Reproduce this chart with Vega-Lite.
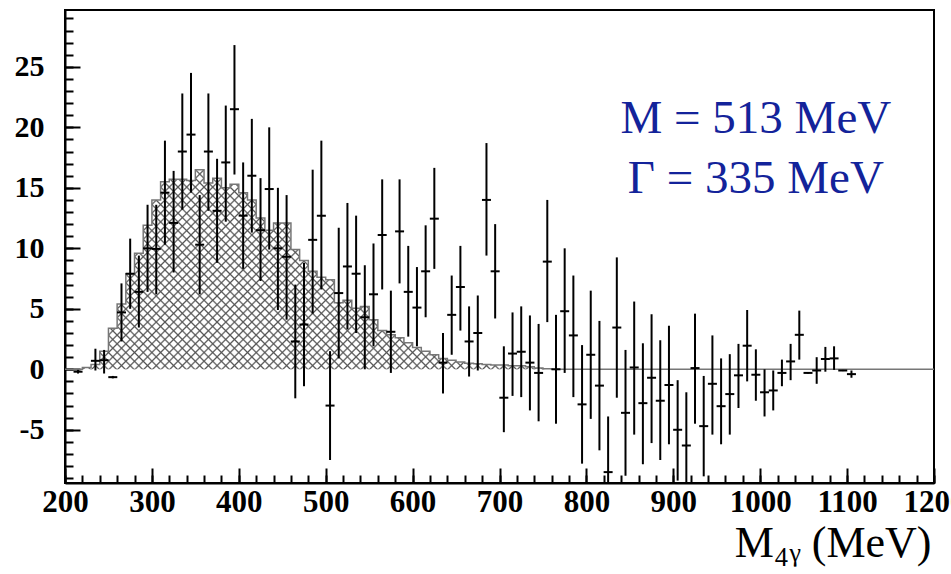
{
  "$schema": "https://vega.github.io/schema/vega-lite/v6.json",
  "width": 869,
  "height": 473,
  "autosize": {"type": "none"},
  "padding": {"left": 65, "top": 10, "right": 17, "bottom": 91},
  "background": "white",
  "config": {"view": {"stroke": "black", "strokeWidth": 2}, "font": "Liberation Serif"},
  "resolve": {"axis": {"x": "independent", "y": "independent"}},
  "datasets": {
    "hist": [{"lo":200,"h":0},{"lo":210,"h":0},{"lo":220,"h":0.15},{"lo":230,"h":0.4},{"lo":240,"h":1.5},{"lo":250,"h":3.4},{"lo":260,"h":5.4},{"lo":270,"h":7.9},{"lo":280,"h":9.6},{"lo":290,"h":11.9},{"lo":300,"h":14.0},{"lo":310,"h":15.5},{"lo":320,"h":15.7},{"lo":330,"h":15.7},{"lo":340,"h":15.6},{"lo":350,"h":16.5},{"lo":360,"h":15.4},{"lo":370,"h":15.8},{"lo":380,"h":15.0},{"lo":390,"h":15.3},{"lo":400,"h":14.6},{"lo":410,"h":14.0},{"lo":420,"h":12.5},{"lo":430,"h":11.5},{"lo":440,"h":12.1},{"lo":450,"h":12.1},{"lo":460,"h":9.9},{"lo":470,"h":9.0},{"lo":480,"h":8.1},{"lo":490,"h":7.6},{"lo":500,"h":7.4},{"lo":510,"h":5.5},{"lo":520,"h":5.7},{"lo":530,"h":5.05},{"lo":540,"h":5.2},{"lo":550,"h":4.1},{"lo":560,"h":3.2},{"lo":570,"h":2.85},{"lo":580,"h":2.6},{"lo":590,"h":2.2},{"lo":600,"h":1.8},{"lo":610,"h":1.5},{"lo":620,"h":1.2},{"lo":630,"h":0.9},{"lo":640,"h":0.75},{"lo":650,"h":0.6},{"lo":660,"h":0.5},{"lo":670,"h":0.45},{"lo":680,"h":0.4},{"lo":690,"h":0.35},{"lo":700,"h":0.35},{"lo":710,"h":0.3},{"lo":720,"h":0.3},{"lo":730,"h":0.2},{"lo":740,"h":0.1},{"lo":750,"h":0.05},{"lo":760,"h":0},{"lo":1200,"h":0}],
    "pts": [{"m":215,"v":-0.2,"lo":-0.35,"hi":-0.05},{"m":235,"v":0.7,"lo":-0.1,"hi":1.7},{"m":245,"v":0.75,"lo":-0.35,"hi":1.6},{"m":255,"v":-0.65,"lo":-0.75,"hi":-0.55},{"m":265,"v":4.7,"lo":2.3,"hi":7.1},{"m":275,"v":7.9,"lo":5.0,"hi":10.8},{"m":285,"v":6.4,"lo":3.45,"hi":9.4},{"m":295,"v":10.0,"lo":6.4,"hi":13.6},{"m":305,"v":9.95,"lo":6.2,"hi":13.6},{"m":315,"v":14.6,"lo":10.3,"hi":18.9},{"m":325,"v":12.1,"lo":8.0,"hi":16.4},{"m":335,"v":18.0,"lo":13.2,"hi":22.8},{"m":345,"v":19.4,"lo":14.6,"hi":24.5},{"m":355,"v":10.3,"lo":6.2,"hi":14.4},{"m":365,"v":18.0,"lo":13.1,"hi":22.8},{"m":375,"v":13.1,"lo":8.8,"hi":17.4},{"m":385,"v":17.1,"lo":12.2,"hi":21.8},{"m":395,"v":21.5,"lo":16.1,"hi":26.8},{"m":405,"v":12.7,"lo":8.3,"hi":17.1},{"m":415,"v":16.0,"lo":11.3,"hi":20.7},{"m":425,"v":11.5,"lo":7.3,"hi":15.8},{"m":435,"v":14.9,"lo":9.9,"hi":20.0},{"m":445,"v":10.0,"lo":4.9,"hi":15.0},{"m":455,"v":9.3,"lo":4.1,"hi":14.4},{"m":465,"v":2.3,"lo":-2.4,"hi":7.0},{"m":475,"v":3.7,"lo":-1.4,"hi":8.8},{"m":485,"v":10.7,"lo":4.6,"hi":16.5},{"m":495,"v":12.7,"lo":6.6,"hi":18.9},{"m":505,"v":-3.0,"lo":-7.5,"hi":1.5},{"m":515,"v":6.3,"lo":0.9,"hi":11.7},{"m":525,"v":8.5,"lo":3.3,"hi":13.75},{"m":535,"v":7.9,"lo":3.0,"hi":12.7},{"m":545,"v":4.3,"lo":0.0,"hi":8.6},{"m":555,"v":6.2,"lo":1.9,"hi":10.4},{"m":565,"v":11.1,"lo":6.6,"hi":15.7},{"m":575,"v":3.1,"lo":-0.3,"hi":6.5},{"m":585,"v":11.4,"lo":7.1,"hi":15.7},{"m":595,"v":6.4,"lo":2.7,"hi":10.2},{"m":605,"v":5.1,"lo":1.9,"hi":8.45},{"m":615,"v":8.1,"lo":4.3,"hi":11.9},{"m":625,"v":12.45,"lo":8.3,"hi":16.65},{"m":635,"v":0.55,"lo":-2.0,"hi":3.0},{"m":645,"v":4.5,"lo":1.2,"hi":7.75},{"m":655,"v":6.8,"lo":3.2,"hi":10.2},{"m":665,"v":2.3,"lo":-0.6,"hi":5.2},{"m":675,"v":3.0,"lo":-0.1,"hi":6.1},{"m":685,"v":14.0,"lo":9.4,"hi":18.7},{"m":695,"v":8.1,"lo":4.2,"hi":12.0},{"m":705,"v":-2.35,"lo":-5.2,"hi":1.9},{"m":715,"v":1.3,"lo":-2.2,"hi":4.7},{"m":725,"v":1.45,"lo":-2.3,"hi":5.2},{"m":735,"v":0.55,"lo":-3.4,"hi":4.45},{"m":745,"v":-0.3,"lo":-4.3,"hi":3.75},{"m":755,"v":8.9,"lo":3.9,"hi":14.0},{"m":765,"v":0.0,"lo":-4.5,"hi":4.5},{"m":775,"v":4.8,"lo":-0.3,"hi":10.0},{"m":785,"v":2.8,"lo":-2.3,"hi":7.75},{"m":795,"v":-2.9,"lo":-7.8,"hi":2.0},{"m":805,"v":1.2,"lo":-4.1,"hi":6.5},{"m":815,"v":-1.35,"lo":-6.7,"hi":4.0},{"m":825,"v":-8.5,"lo":-13.0,"hi":-3.9},{"m":835,"v":3.45,"lo":-2.35,"hi":9.25},{"m":845,"v":-3.6,"lo":-8.8,"hi":1.6},{"m":855,"v":0.15,"lo":-5.4,"hi":5.6},{"m":865,"v":-2.8,"lo":-7.85,"hi":2.15},{"m":875,"v":-0.7,"lo":-6.1,"hi":4.55},{"m":885,"v":-2.6,"lo":-7.5,"hi":2.4},{"m":895,"v":-1.3,"lo":-6.2,"hi":3.6},{"m":905,"v":-5.0,"lo":-9.2,"hi":-0.9},{"m":915,"v":-6.3,"lo":-11.0,"hi":-1.9},{"m":925,"v":0.1,"lo":-4.5,"hi":4.6},{"m":935,"v":-4.7,"lo":-8.85,"hi":-0.55},{"m":945,"v":-1.2,"lo":-5.4,"hi":2.8},{"m":955,"v":-3.05,"lo":-6.2,"hi":0.9},{"m":965,"v":-2.05,"lo":-5.4,"hi":1.25},{"m":975,"v":-0.5,"lo":-3.2,"hi":2.1},{"m":985,"v":1.95,"lo":-1.0,"hi":4.9},{"m":995,"v":-0.45,"lo":-2.6,"hi":1.65},{"m":1005,"v":-1.9,"lo":-3.9,"hi":0.0},{"m":1015,"v":-1.75,"lo":-3.4,"hi":-0.1},{"m":1025,"v":-0.3,"lo":-1.4,"hi":0.8},{"m":1035,"v":0.65,"lo":-0.9,"hi":2.1},{"m":1045,"v":2.85,"lo":0.8,"hi":4.85},{"m":1055,"v":-0.3,"lo":-0.35,"hi":-0.25},{"m":1065,"v":-0.1,"lo":-1.2,"hi":1.0},{"m":1075,"v":0.85,"lo":-0.2,"hi":1.85},{"m":1085,"v":0.9,"lo":-0.05,"hi":1.9},{"m":1095,"v":-0.1,"lo":-0.15,"hi":-0.05},{"m":1105,"v":-0.4,"lo":-0.7,"hi":-0.1}]
  },
  "layer": [
    {
      "data": {"name": "hist"},
      "transform": [{"filter": "datum.lo <= 760"}],
      "mark": {"type": "area", "interpolate": "step-after", "clip": true, "fillOpacity": 1,
        "fill": {"gradient": "linear", "x1": 0, "y1": 0, "x2": 1.2235, "y2": 0.5009, "stops": [
{"offset":0,"color":"#555"},{"offset":0.0025,"color":"#5550"},{"offset":0.01,"color":"#5550"},
{"offset":0.0125,"color":"#555"},{"offset":0.015,"color":"#5550"},{"offset":0.0225,"color":"#5550"},
{"offset":0.025,"color":"#555"},{"offset":0.0275,"color":"#5550"},{"offset":0.035,"color":"#5550"},
{"offset":0.0375,"color":"#555"},{"offset":0.04,"color":"#5550"},{"offset":0.0475,"color":"#5550"},
{"offset":0.05,"color":"#555"},{"offset":0.0525,"color":"#5550"},{"offset":0.06,"color":"#5550"},
{"offset":0.0625,"color":"#555"},{"offset":0.065,"color":"#5550"},{"offset":0.0725,"color":"#5550"},
{"offset":0.075,"color":"#555"},{"offset":0.0775,"color":"#5550"},{"offset":0.085,"color":"#5550"},
{"offset":0.0875,"color":"#555"},{"offset":0.09,"color":"#5550"},{"offset":0.0975,"color":"#5550"},
{"offset":0.1,"color":"#555"},{"offset":0.1025,"color":"#5550"},{"offset":0.11,"color":"#5550"},
{"offset":0.1125,"color":"#555"},{"offset":0.115,"color":"#5550"},{"offset":0.1225,"color":"#5550"},
{"offset":0.125,"color":"#555"},{"offset":0.1275,"color":"#5550"},{"offset":0.135,"color":"#5550"},
{"offset":0.1375,"color":"#555"},{"offset":0.14,"color":"#5550"},{"offset":0.1475,"color":"#5550"},
{"offset":0.15,"color":"#555"},{"offset":0.1525,"color":"#5550"},{"offset":0.16,"color":"#5550"},
{"offset":0.1625,"color":"#555"},{"offset":0.165,"color":"#5550"},{"offset":0.1725,"color":"#5550"},
{"offset":0.175,"color":"#555"},{"offset":0.1775,"color":"#5550"},{"offset":0.185,"color":"#5550"},
{"offset":0.1875,"color":"#555"},{"offset":0.19,"color":"#5550"},{"offset":0.1975,"color":"#5550"},
{"offset":0.2,"color":"#555"},{"offset":0.2025,"color":"#5550"},{"offset":0.21,"color":"#5550"},
{"offset":0.2125,"color":"#555"},{"offset":0.215,"color":"#5550"},{"offset":0.2225,"color":"#5550"},
{"offset":0.225,"color":"#555"},{"offset":0.2275,"color":"#5550"},{"offset":0.235,"color":"#5550"},
{"offset":0.2375,"color":"#555"},{"offset":0.24,"color":"#5550"},{"offset":0.2475,"color":"#5550"},
{"offset":0.25,"color":"#555"},{"offset":0.2525,"color":"#5550"},{"offset":0.26,"color":"#5550"},
{"offset":0.2625,"color":"#555"},{"offset":0.265,"color":"#5550"},{"offset":0.2725,"color":"#5550"},
{"offset":0.275,"color":"#555"},{"offset":0.2775,"color":"#5550"},{"offset":0.285,"color":"#5550"},
{"offset":0.2875,"color":"#555"},{"offset":0.29,"color":"#5550"},{"offset":0.2975,"color":"#5550"},
{"offset":0.3,"color":"#555"},{"offset":0.3025,"color":"#5550"},{"offset":0.31,"color":"#5550"},
{"offset":0.3125,"color":"#555"},{"offset":0.315,"color":"#5550"},{"offset":0.3225,"color":"#5550"},
{"offset":0.325,"color":"#555"},{"offset":0.3275,"color":"#5550"},{"offset":0.335,"color":"#5550"},
{"offset":0.3375,"color":"#555"},{"offset":0.34,"color":"#5550"},{"offset":0.3475,"color":"#5550"},
{"offset":0.35,"color":"#555"},{"offset":0.3525,"color":"#5550"},{"offset":0.36,"color":"#5550"},
{"offset":0.3625,"color":"#555"},{"offset":0.365,"color":"#5550"},{"offset":0.3725,"color":"#5550"},
{"offset":0.375,"color":"#555"},{"offset":0.3775,"color":"#5550"},{"offset":0.385,"color":"#5550"},
{"offset":0.3875,"color":"#555"},{"offset":0.39,"color":"#5550"},{"offset":0.3975,"color":"#5550"},
{"offset":0.4,"color":"#555"},{"offset":0.4025,"color":"#5550"},{"offset":0.41,"color":"#5550"},
{"offset":0.4125,"color":"#555"},{"offset":0.415,"color":"#5550"},{"offset":0.4225,"color":"#5550"},
{"offset":0.425,"color":"#555"},{"offset":0.4275,"color":"#5550"},{"offset":0.435,"color":"#5550"},
{"offset":0.4375,"color":"#555"},{"offset":0.44,"color":"#5550"},{"offset":0.4475,"color":"#5550"},
{"offset":0.45,"color":"#555"},{"offset":0.4525,"color":"#5550"},{"offset":0.46,"color":"#5550"},
{"offset":0.4625,"color":"#555"},{"offset":0.465,"color":"#5550"},{"offset":0.4725,"color":"#5550"},
{"offset":0.475,"color":"#555"},{"offset":0.4775,"color":"#5550"},{"offset":0.485,"color":"#5550"},
{"offset":0.4875,"color":"#555"},{"offset":0.49,"color":"#5550"},{"offset":0.4975,"color":"#5550"},
{"offset":0.5,"color":"#555"},{"offset":0.5025,"color":"#5550"},{"offset":0.51,"color":"#5550"},
{"offset":0.5125,"color":"#555"},{"offset":0.515,"color":"#5550"},{"offset":0.5225,"color":"#5550"},
{"offset":0.525,"color":"#555"},{"offset":0.5275,"color":"#5550"},{"offset":0.535,"color":"#5550"},
{"offset":0.5375,"color":"#555"},{"offset":0.54,"color":"#5550"},{"offset":0.5475,"color":"#5550"},
{"offset":0.55,"color":"#555"},{"offset":0.5525,"color":"#5550"},{"offset":0.56,"color":"#5550"},
{"offset":0.5625,"color":"#555"},{"offset":0.565,"color":"#5550"},{"offset":0.5725,"color":"#5550"},
{"offset":0.575,"color":"#555"},{"offset":0.5775,"color":"#5550"},{"offset":0.585,"color":"#5550"},
{"offset":0.5875,"color":"#555"},{"offset":0.59,"color":"#5550"},{"offset":0.5975,"color":"#5550"},
{"offset":0.6,"color":"#555"},{"offset":0.6025,"color":"#5550"},{"offset":0.61,"color":"#5550"},
{"offset":0.6125,"color":"#555"},{"offset":0.615,"color":"#5550"},{"offset":0.6225,"color":"#5550"},
{"offset":0.625,"color":"#555"},{"offset":0.6275,"color":"#5550"},{"offset":0.635,"color":"#5550"},
{"offset":0.6375,"color":"#555"},{"offset":0.64,"color":"#5550"},{"offset":0.6475,"color":"#5550"},
{"offset":0.65,"color":"#555"},{"offset":0.6525,"color":"#5550"},{"offset":0.66,"color":"#5550"},
{"offset":0.6625,"color":"#555"},{"offset":0.665,"color":"#5550"},{"offset":0.6725,"color":"#5550"},
{"offset":0.675,"color":"#555"},{"offset":0.6775,"color":"#5550"},{"offset":0.685,"color":"#5550"},
{"offset":0.6875,"color":"#555"},{"offset":0.69,"color":"#5550"},{"offset":0.6975,"color":"#5550"},
{"offset":0.7,"color":"#555"},{"offset":0.7025,"color":"#5550"},{"offset":0.71,"color":"#5550"},
{"offset":0.7125,"color":"#555"},{"offset":0.715,"color":"#5550"},{"offset":0.7225,"color":"#5550"},
{"offset":0.725,"color":"#555"},{"offset":0.7275,"color":"#5550"},{"offset":0.735,"color":"#5550"},
{"offset":0.7375,"color":"#555"},{"offset":0.74,"color":"#5550"},{"offset":0.7475,"color":"#5550"},
{"offset":0.75,"color":"#555"},{"offset":0.7525,"color":"#5550"},{"offset":0.76,"color":"#5550"},
{"offset":0.7625,"color":"#555"},{"offset":0.765,"color":"#5550"},{"offset":0.7725,"color":"#5550"},
{"offset":0.775,"color":"#555"},{"offset":0.7775,"color":"#5550"},{"offset":0.785,"color":"#5550"},
{"offset":0.7875,"color":"#555"},{"offset":0.79,"color":"#5550"},{"offset":0.7975,"color":"#5550"},
{"offset":0.8,"color":"#555"},{"offset":0.8025,"color":"#5550"},{"offset":0.81,"color":"#5550"},
{"offset":0.8125,"color":"#555"},{"offset":0.815,"color":"#5550"},{"offset":0.8225,"color":"#5550"},
{"offset":0.825,"color":"#555"},{"offset":0.8275,"color":"#5550"},{"offset":0.835,"color":"#5550"},
{"offset":0.8375,"color":"#555"},{"offset":0.84,"color":"#5550"},{"offset":0.8475,"color":"#5550"},
{"offset":0.85,"color":"#555"},{"offset":0.8525,"color":"#5550"},{"offset":0.86,"color":"#5550"},
{"offset":0.8625,"color":"#555"},{"offset":0.865,"color":"#5550"},{"offset":0.8725,"color":"#5550"},
{"offset":0.875,"color":"#555"},{"offset":0.8775,"color":"#5550"},{"offset":0.885,"color":"#5550"},
{"offset":0.8875,"color":"#555"},{"offset":0.89,"color":"#5550"},{"offset":0.8975,"color":"#5550"},
{"offset":0.9,"color":"#555"},{"offset":0.9025,"color":"#5550"},{"offset":0.91,"color":"#5550"},
{"offset":0.9125,"color":"#555"},{"offset":0.915,"color":"#5550"},{"offset":0.9225,"color":"#5550"},
{"offset":0.925,"color":"#555"},{"offset":0.9275,"color":"#5550"},{"offset":0.935,"color":"#5550"},
{"offset":0.9375,"color":"#555"},{"offset":0.94,"color":"#5550"},{"offset":0.9475,"color":"#5550"},
{"offset":0.95,"color":"#555"},{"offset":0.9525,"color":"#5550"},{"offset":0.96,"color":"#5550"},
{"offset":0.9625,"color":"#555"},{"offset":0.965,"color":"#5550"},{"offset":0.9725,"color":"#5550"},
{"offset":0.975,"color":"#555"},{"offset":0.9775,"color":"#5550"},{"offset":0.985,"color":"#5550"},
{"offset":0.9875,"color":"#555"},{"offset":0.99,"color":"#5550"},{"offset":0.9975,"color":"#5550"},
{"offset":1,"color":"#555"}
        ]}
      },
      "encoding": {
        "x": {"field": "lo", "type": "quantitative",
          "scale": {"domain": [200, 1200], "nice": false, "zero": false},
          "axis": {
            "orient": "bottom",
            "values": [200,300,400,500,600,700,800,900,1000,1100,1200],
            "format": "d",
            "ticks": false,
            "domain": true, "domainColor": "black", "domainWidth": 2,
            "grid": true, "gridColor": "black", "gridWidth": 2, "gridOpacity": 1,
            "gridDash": [15, 458], "gridDashOffset": 15,
            "labelFont": "Liberation Serif", "labelFontWeight": "bold", "labelFontSize": 31, "labelColor": "black",
            "labelPadding": 4, "labelFlush": false, "labelOverlap": false, "labelBound": false,
            "title": "M₄ᵧ (MeV)",
            "titleFont": "Liberation Serif", "titleFontWeight": "normal", "titleFontSize": 44, "titleColor": "black",
            "titleX": 866, "titleY": 73, "titleAlign": "right", "titleBaseline": "alphabetic", "titleAnchor": "end"
          }
        },
        "y": {"field": "h", "type": "quantitative",
          "scale": {"domain": [-9.4, 29.7], "nice": false, "zero": false},
          "axis": {
            "orient": "left",
            "values": [-5,0,5,10,15,20,25],
            "labelExpr": "'' + datum.value",
            "ticks": false,
            "domain": true, "domainColor": "black", "domainWidth": 2,
            "grid": true, "gridColor": "black", "gridWidth": 2, "gridOpacity": 1,
            "gridDash": [15, 2000],
            "labelFont": "Liberation Serif", "labelFontWeight": "bold", "labelFontSize": 30, "labelColor": "black",
            "labelPadding": 21, "labelFlush": false, "labelOverlap": false, "labelBound": false,
            "title": null
          }
        },
        "y2": {"datum": 0}
      }
    },
    {
      "data": {"name": "hist"},
      "transform": [{"filter": "datum.lo <= 760"}],
      "mark": {"type": "area", "interpolate": "step-after", "clip": true, "fillOpacity": 1,
        "fill": {"gradient": "linear", "x1": 1, "y1": 0, "x2": -0.2235, "y2": 0.5009, "stops": [
{"offset":0,"color":"#555"},{"offset":0.0025,"color":"#5550"},{"offset":0.01,"color":"#5550"},
{"offset":0.0125,"color":"#555"},{"offset":0.015,"color":"#5550"},{"offset":0.0225,"color":"#5550"},
{"offset":0.025,"color":"#555"},{"offset":0.0275,"color":"#5550"},{"offset":0.035,"color":"#5550"},
{"offset":0.0375,"color":"#555"},{"offset":0.04,"color":"#5550"},{"offset":0.0475,"color":"#5550"},
{"offset":0.05,"color":"#555"},{"offset":0.0525,"color":"#5550"},{"offset":0.06,"color":"#5550"},
{"offset":0.0625,"color":"#555"},{"offset":0.065,"color":"#5550"},{"offset":0.0725,"color":"#5550"},
{"offset":0.075,"color":"#555"},{"offset":0.0775,"color":"#5550"},{"offset":0.085,"color":"#5550"},
{"offset":0.0875,"color":"#555"},{"offset":0.09,"color":"#5550"},{"offset":0.0975,"color":"#5550"},
{"offset":0.1,"color":"#555"},{"offset":0.1025,"color":"#5550"},{"offset":0.11,"color":"#5550"},
{"offset":0.1125,"color":"#555"},{"offset":0.115,"color":"#5550"},{"offset":0.1225,"color":"#5550"},
{"offset":0.125,"color":"#555"},{"offset":0.1275,"color":"#5550"},{"offset":0.135,"color":"#5550"},
{"offset":0.1375,"color":"#555"},{"offset":0.14,"color":"#5550"},{"offset":0.1475,"color":"#5550"},
{"offset":0.15,"color":"#555"},{"offset":0.1525,"color":"#5550"},{"offset":0.16,"color":"#5550"},
{"offset":0.1625,"color":"#555"},{"offset":0.165,"color":"#5550"},{"offset":0.1725,"color":"#5550"},
{"offset":0.175,"color":"#555"},{"offset":0.1775,"color":"#5550"},{"offset":0.185,"color":"#5550"},
{"offset":0.1875,"color":"#555"},{"offset":0.19,"color":"#5550"},{"offset":0.1975,"color":"#5550"},
{"offset":0.2,"color":"#555"},{"offset":0.2025,"color":"#5550"},{"offset":0.21,"color":"#5550"},
{"offset":0.2125,"color":"#555"},{"offset":0.215,"color":"#5550"},{"offset":0.2225,"color":"#5550"},
{"offset":0.225,"color":"#555"},{"offset":0.2275,"color":"#5550"},{"offset":0.235,"color":"#5550"},
{"offset":0.2375,"color":"#555"},{"offset":0.24,"color":"#5550"},{"offset":0.2475,"color":"#5550"},
{"offset":0.25,"color":"#555"},{"offset":0.2525,"color":"#5550"},{"offset":0.26,"color":"#5550"},
{"offset":0.2625,"color":"#555"},{"offset":0.265,"color":"#5550"},{"offset":0.2725,"color":"#5550"},
{"offset":0.275,"color":"#555"},{"offset":0.2775,"color":"#5550"},{"offset":0.285,"color":"#5550"},
{"offset":0.2875,"color":"#555"},{"offset":0.29,"color":"#5550"},{"offset":0.2975,"color":"#5550"},
{"offset":0.3,"color":"#555"},{"offset":0.3025,"color":"#5550"},{"offset":0.31,"color":"#5550"},
{"offset":0.3125,"color":"#555"},{"offset":0.315,"color":"#5550"},{"offset":0.3225,"color":"#5550"},
{"offset":0.325,"color":"#555"},{"offset":0.3275,"color":"#5550"},{"offset":0.335,"color":"#5550"},
{"offset":0.3375,"color":"#555"},{"offset":0.34,"color":"#5550"},{"offset":0.3475,"color":"#5550"},
{"offset":0.35,"color":"#555"},{"offset":0.3525,"color":"#5550"},{"offset":0.36,"color":"#5550"},
{"offset":0.3625,"color":"#555"},{"offset":0.365,"color":"#5550"},{"offset":0.3725,"color":"#5550"},
{"offset":0.375,"color":"#555"},{"offset":0.3775,"color":"#5550"},{"offset":0.385,"color":"#5550"},
{"offset":0.3875,"color":"#555"},{"offset":0.39,"color":"#5550"},{"offset":0.3975,"color":"#5550"},
{"offset":0.4,"color":"#555"},{"offset":0.4025,"color":"#5550"},{"offset":0.41,"color":"#5550"},
{"offset":0.4125,"color":"#555"},{"offset":0.415,"color":"#5550"},{"offset":0.4225,"color":"#5550"},
{"offset":0.425,"color":"#555"},{"offset":0.4275,"color":"#5550"},{"offset":0.435,"color":"#5550"},
{"offset":0.4375,"color":"#555"},{"offset":0.44,"color":"#5550"},{"offset":0.4475,"color":"#5550"},
{"offset":0.45,"color":"#555"},{"offset":0.4525,"color":"#5550"},{"offset":0.46,"color":"#5550"},
{"offset":0.4625,"color":"#555"},{"offset":0.465,"color":"#5550"},{"offset":0.4725,"color":"#5550"},
{"offset":0.475,"color":"#555"},{"offset":0.4775,"color":"#5550"},{"offset":0.485,"color":"#5550"},
{"offset":0.4875,"color":"#555"},{"offset":0.49,"color":"#5550"},{"offset":0.4975,"color":"#5550"},
{"offset":0.5,"color":"#555"},{"offset":0.5025,"color":"#5550"},{"offset":0.51,"color":"#5550"},
{"offset":0.5125,"color":"#555"},{"offset":0.515,"color":"#5550"},{"offset":0.5225,"color":"#5550"},
{"offset":0.525,"color":"#555"},{"offset":0.5275,"color":"#5550"},{"offset":0.535,"color":"#5550"},
{"offset":0.5375,"color":"#555"},{"offset":0.54,"color":"#5550"},{"offset":0.5475,"color":"#5550"},
{"offset":0.55,"color":"#555"},{"offset":0.5525,"color":"#5550"},{"offset":0.56,"color":"#5550"},
{"offset":0.5625,"color":"#555"},{"offset":0.565,"color":"#5550"},{"offset":0.5725,"color":"#5550"},
{"offset":0.575,"color":"#555"},{"offset":0.5775,"color":"#5550"},{"offset":0.585,"color":"#5550"},
{"offset":0.5875,"color":"#555"},{"offset":0.59,"color":"#5550"},{"offset":0.5975,"color":"#5550"},
{"offset":0.6,"color":"#555"},{"offset":0.6025,"color":"#5550"},{"offset":0.61,"color":"#5550"},
{"offset":0.6125,"color":"#555"},{"offset":0.615,"color":"#5550"},{"offset":0.6225,"color":"#5550"},
{"offset":0.625,"color":"#555"},{"offset":0.6275,"color":"#5550"},{"offset":0.635,"color":"#5550"},
{"offset":0.6375,"color":"#555"},{"offset":0.64,"color":"#5550"},{"offset":0.6475,"color":"#5550"},
{"offset":0.65,"color":"#555"},{"offset":0.6525,"color":"#5550"},{"offset":0.66,"color":"#5550"},
{"offset":0.6625,"color":"#555"},{"offset":0.665,"color":"#5550"},{"offset":0.6725,"color":"#5550"},
{"offset":0.675,"color":"#555"},{"offset":0.6775,"color":"#5550"},{"offset":0.685,"color":"#5550"},
{"offset":0.6875,"color":"#555"},{"offset":0.69,"color":"#5550"},{"offset":0.6975,"color":"#5550"},
{"offset":0.7,"color":"#555"},{"offset":0.7025,"color":"#5550"},{"offset":0.71,"color":"#5550"},
{"offset":0.7125,"color":"#555"},{"offset":0.715,"color":"#5550"},{"offset":0.7225,"color":"#5550"},
{"offset":0.725,"color":"#555"},{"offset":0.7275,"color":"#5550"},{"offset":0.735,"color":"#5550"},
{"offset":0.7375,"color":"#555"},{"offset":0.74,"color":"#5550"},{"offset":0.7475,"color":"#5550"},
{"offset":0.75,"color":"#555"},{"offset":0.7525,"color":"#5550"},{"offset":0.76,"color":"#5550"},
{"offset":0.7625,"color":"#555"},{"offset":0.765,"color":"#5550"},{"offset":0.7725,"color":"#5550"},
{"offset":0.775,"color":"#555"},{"offset":0.7775,"color":"#5550"},{"offset":0.785,"color":"#5550"},
{"offset":0.7875,"color":"#555"},{"offset":0.79,"color":"#5550"},{"offset":0.7975,"color":"#5550"},
{"offset":0.8,"color":"#555"},{"offset":0.8025,"color":"#5550"},{"offset":0.81,"color":"#5550"},
{"offset":0.8125,"color":"#555"},{"offset":0.815,"color":"#5550"},{"offset":0.8225,"color":"#5550"},
{"offset":0.825,"color":"#555"},{"offset":0.8275,"color":"#5550"},{"offset":0.835,"color":"#5550"},
{"offset":0.8375,"color":"#555"},{"offset":0.84,"color":"#5550"},{"offset":0.8475,"color":"#5550"},
{"offset":0.85,"color":"#555"},{"offset":0.8525,"color":"#5550"},{"offset":0.86,"color":"#5550"},
{"offset":0.8625,"color":"#555"},{"offset":0.865,"color":"#5550"},{"offset":0.8725,"color":"#5550"},
{"offset":0.875,"color":"#555"},{"offset":0.8775,"color":"#5550"},{"offset":0.885,"color":"#5550"},
{"offset":0.8875,"color":"#555"},{"offset":0.89,"color":"#5550"},{"offset":0.8975,"color":"#5550"},
{"offset":0.9,"color":"#555"},{"offset":0.9025,"color":"#5550"},{"offset":0.91,"color":"#5550"},
{"offset":0.9125,"color":"#555"},{"offset":0.915,"color":"#5550"},{"offset":0.9225,"color":"#5550"},
{"offset":0.925,"color":"#555"},{"offset":0.9275,"color":"#5550"},{"offset":0.935,"color":"#5550"},
{"offset":0.9375,"color":"#555"},{"offset":0.94,"color":"#5550"},{"offset":0.9475,"color":"#5550"},
{"offset":0.95,"color":"#555"},{"offset":0.9525,"color":"#5550"},{"offset":0.96,"color":"#5550"},
{"offset":0.9625,"color":"#555"},{"offset":0.965,"color":"#5550"},{"offset":0.9725,"color":"#5550"},
{"offset":0.975,"color":"#555"},{"offset":0.9775,"color":"#5550"},{"offset":0.985,"color":"#5550"},
{"offset":0.9875,"color":"#555"},{"offset":0.99,"color":"#5550"},{"offset":0.9975,"color":"#5550"},
{"offset":1,"color":"#555"}
        ]}
      },
      "encoding": {
        "x": {"field": "lo", "type": "quantitative",
          "axis": {
            "orient": "bottom",
            "values": [200,220,240,260,280,300,320,340,360,380,400,420,440,460,480,500,520,540,560,580,600,620,640,660,680,700,720,740,760,780,800,820,840,860,880,900,920,940,960,980,1000,1020,1040,1060,1080,1100,1120,1140,1160,1180,1200],
            "labels": false, "ticks": false, "domain": false, "title": null,
            "grid": true, "gridColor": "black", "gridWidth": 2, "gridOpacity": 1,
            "gridDash": [8, 465], "gridDashOffset": 8
          }
        },
        "y": {"field": "h", "type": "quantitative",
          "axis": {
            "orient": "left",
            "values": [-9,-8,-7,-6,-5,-4,-3,-2,-1,0,1,2,3,4,5,6,7,8,9,10,11,12,13,14,15,16,17,18,19,20,21,22,23,24,25,26,27,28,29],
            "labels": false, "ticks": false, "domain": false, "title": null,
            "grid": true, "gridColor": "black", "gridWidth": 2, "gridOpacity": 1,
            "gridDash": [8, 2000]
          }
        },
        "y2": {"datum": 0}
      }
    },
    {
      "data": {"name": "hist"},
      "mark": {"type": "line", "interpolate": "step-after", "color": "#777", "strokeWidth": 1.5, "clip": true},
      "encoding": {
        "x": {"field": "lo", "type": "quantitative", "axis": null},
        "y": {"field": "h", "type": "quantitative", "axis": null}
      }
    },
    {
      "data": {"name": "pts"},
      "mark": {"type": "rule", "color": "black", "strokeWidth": 2, "clip": true},
      "encoding": {
        "x": {"field": "m", "type": "quantitative", "axis": null},
        "y": {"field": "lo", "type": "quantitative", "axis": null},
        "y2": {"field": "hi"}
      }
    },
    {
      "data": {"name": "pts"},
      "mark": {"type": "tick", "orient": "horizontal", "size": 9, "thickness": 2, "color": "black", "opacity": 1, "clip": true},
      "encoding": {
        "x": {"field": "m", "type": "quantitative", "axis": null},
        "y": {"field": "v", "type": "quantitative", "axis": null}
      }
    },
    {
      "data": {"values": [{}]},
      "mark": {"type": "text", "text": "M = 513 MeV", "font": "Liberation Serif", "fontSize": 47, "color": "#13239a", "align": "center", "baseline": "alphabetic"},
      "encoding": {
        "x": {"datum": 995, "type": "quantitative", "axis": null},
        "y": {"datum": 19.55, "type": "quantitative", "axis": null}
      }
    },
    {
      "data": {"values": [{}]},
      "mark": {"type": "text", "text": "Γ = 335 MeV", "font": "Liberation Serif", "fontSize": 47, "color": "#13239a", "align": "center", "baseline": "alphabetic"},
      "encoding": {
        "x": {"datum": 995, "type": "quantitative", "axis": null},
        "y": {"datum": 14.6, "type": "quantitative", "axis": null}
      }
    }
  ]
}
